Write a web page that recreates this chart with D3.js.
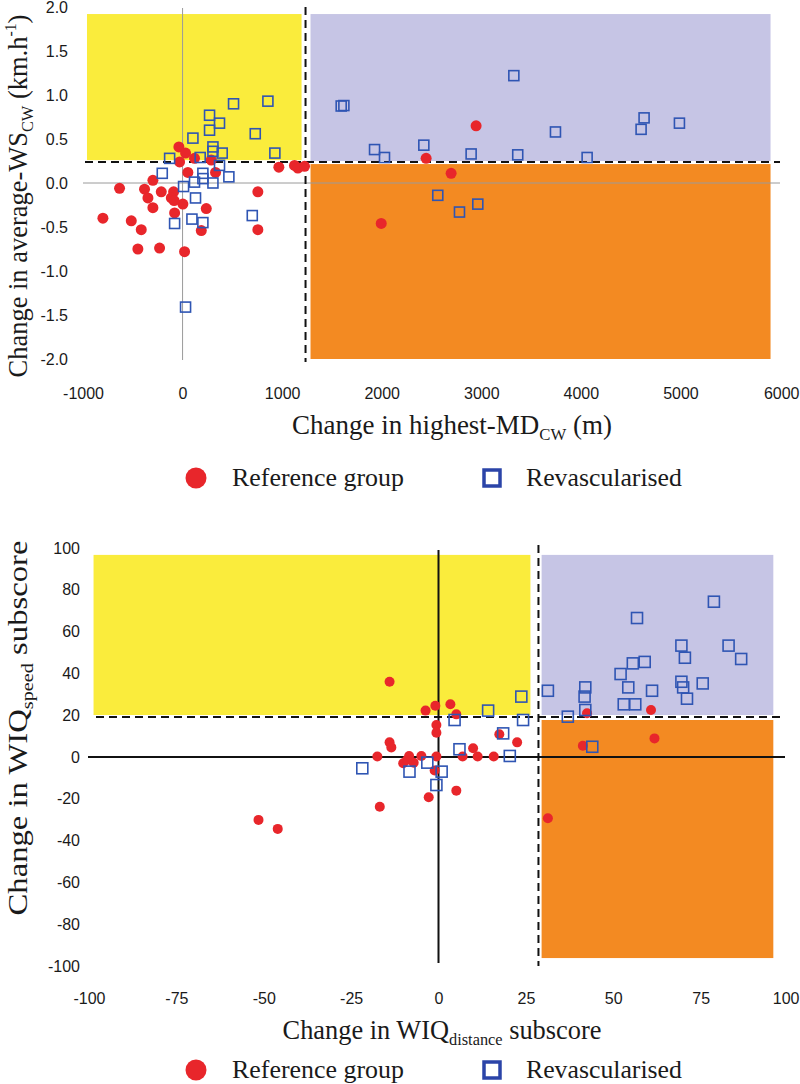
<!DOCTYPE html>
<html><head><meta charset="utf-8">
<script src="https://cdn.jsdelivr.net/npm/d3@7"></script>
<style>body{margin:0;background:#fff}svg{display:block}</style>
</head><body>
<script>
// ---------- DATA ----------
// Top chart: change in highest-MD_CW (m) vs change in average-WS_CW (km/h)
const topRefGroup = [[-37,0.41],[30,0.34],[-30,0.24],[120,0.28],[288,0.26],[53,0.12],[-298,0.03],[331,0.12],[967,0.18],[1124,0.20],[1158,0.17],[1225,0.19],[-633,-0.06],[-382,-0.07],[-214,-0.10],[-90,-0.10],[-348,-0.17],[-113,-0.17],[3,-0.24],[-298,-0.28],[756,-0.10],[238,-0.29],[-80,-0.34],[-800,-0.40],[-515,-0.43],[-415,-0.53],[188,-0.54],[756,-0.53],[-449,-0.75],[-231,-0.74],[20,-0.78],[-85,-0.20],[2948,0.65],[2446,0.28],[2697,0.11],[1995,-0.46]];
const topRevasc = [[512,0.90],[857,0.93],[271,0.77],[371,0.68],[271,0.60],[104,0.51],[730,0.56],[305,0.41],[305,0.36],[398,0.34],[177,0.29],[-130,0.28],[927,0.34],[371,0.20],[-204,0.11],[204,0.11],[204,0.05],[465,0.07],[120,0.01],[305,0.00],[10,-0.04],[130,-0.17],[700,-0.37],[-80,-0.46],[94,-0.41],[204,-0.45],[30,-1.41],[1593,0.875],[1620,0.88],[3327,1.22],[1928,0.38],[2028,0.29],[2423,0.43],[2898,0.33],[3366,0.32],[3745,0.58],[4063,0.29],[4605,0.61],[4635,0.74],[4990,0.68],[2563,-0.14],[2781,-0.33],[2965,-0.24]];
const topXTicks = [-1000,0,1000,2000,3000,4000,5000,6000];
const topYTicks = [-2,-1.5,-1,-0.5,0,0.5,1,1.5,2];
const topThreshold = {x:1235, y:0.24};
const topZones = [
  {x0:-960,x1:1195,y0:0.26,y1:1.92,fill:"#FAEC3C"},
  {x0:1285,x1:5905,y0:0.25,y1:1.92,fill:"#C6C5E5"},
  {x0:1285,x1:5905,y0:-2,y1:0.215,fill:"#F38A22"}
];
// Bottom chart: change in WIQ distance subscore vs WIQ speed subscore
const botRefGroup = [[-14.0,36.0],[-3.7,22.2],[-0.9,24.5],[3.4,25.2],[5.1,20.4],[-0.6,15.3],[-0.6,11.6],[-14.0,7.0],[-13.5,4.6],[-17.5,0.2],[-8.4,0.5],[-4.9,0.5],[-0.6,0.2],[-10.1,-3.0],[-7.1,-2.7],[-9.0,-1.4],[-1.1,-6.5],[6.9,0.2],[9.9,4.2],[11.2,0.2],[15.8,0.2],[17.4,10.9],[22.5,7.0],[5.1,-16.1],[-2.8,-19.3],[-16.8,-23.8],[31.3,-29.3],[42.5,20.9],[41.3,5.4],[60.8,22.5],[61.8,8.9],[-51.5,-30.1],[-46,-34.4]];
const botRevasc = [[78.8,74.3],[56.8,66.5],[69.5,53.3],[83.0,53.3],[70.5,47.5],[86.6,46.9],[55.6,44.8],[59.0,45.5],[52.1,39.7],[54.3,33.3],[61.1,31.7],[69.5,36.0],[70.0,33.3],[75.6,35.2],[71.1,27.9],[53.0,25.2],[56.3,25.2],[42.0,33.3],[41.8,28.9],[42.0,22.5],[31.3,31.7],[37.0,19.3],[44.0,4.9],[23.7,28.9],[24.2,17.7],[14.2,22.2],[4.6,17.7],[18.5,11.3],[6.0,3.7],[20.4,0.5],[-21.8,-5.4],[-8.3,-7.0],[-3.2,-2.7],[0.9,-7.0],[-0.6,-13.4]];
const botXTicks = [-100,-75,-50,-25,0,25,50,75,100];
const botYTicks = [-100,-80,-60,-40,-20,0,20,40,60,80,100];
const botThreshold = {x:28.6, y:19.1};
const botZones = [
  {x0:-98.7,x1:26.3,y0:20.1,y1:96.7,fill:"#FAEC3C"},
  {x0:29.5,x1:95.8,y0:20.1,y1:96.7,fill:"#C6C5E5"},
  {x0:29.5,x1:95.8,y0:-96.2,y1:17.7,fill:"#F38A22"}
];
const legendLabels = ["Reference group","Revascularised"];

// ---------- DRAW ----------
const W=800,H=1084;
const svg=d3.select("body").append("svg").attr("width",W).attr("height",H);
const RED="#E8262B", BLUE="#2F55B3";
const serif="'Liberation Serif','Times New Roman',serif";
const sans="'Liberation Sans',Arial,sans-serif";
const TS=28;

function chart(cfg){
  const g=svg.append("g");
  const x=d3.scaleLinear().domain(cfg.xd).range(cfg.xr);
  const y=d3.scaleLinear().domain(cfg.yd).range(cfg.yr);
  g.selectAll("rect.zone").data(cfg.zones).join("rect")
    .attr("x",d=>x(d.x0)).attr("width",d=>x(d.x1)-x(d.x0))
    .attr("y",d=>y(d.y1)).attr("height",d=>y(d.y0)-y(d.y1))
    .attr("fill",d=>d.fill);
  g.append("line").attr("x1",cfg.zeroH[0]).attr("x2",cfg.zeroH[1]).attr("y1",y(0)).attr("y2",y(0))
    .attr("stroke",cfg.zeroColor).attr("stroke-width",cfg.zeroW);
  g.append("line").attr("x1",x(0)).attr("x2",x(0)).attr("y1",cfg.zeroV[0]).attr("y2",cfg.zeroV[1])
    .attr("stroke",cfg.zeroColor).attr("stroke-width",cfg.zeroW);
  g.append("line").attr("x1",cfg.dashH[0]).attr("x2",cfg.dashH[1]).attr("y1",y(cfg.th.y)).attr("y2",y(cfg.th.y))
    .attr("stroke","#111").attr("stroke-width",2).attr("stroke-dasharray","8,5");
  g.append("line").attr("x1",x(cfg.th.x)).attr("x2",x(cfg.th.x)).attr("y1",cfg.dashV[0]).attr("y2",cfg.dashV[1])
    .attr("stroke","#111").attr("stroke-width",2).attr("stroke-dasharray","8,5");
  const xa=g.append("g").attr("transform",`translate(0,${cfg.xLabelY})`)
    .call(d3.axisBottom(x).tickValues(cfg.xt).tickSize(0).tickPadding(0).tickFormat(cfg.xf));
  const ya=g.append("g").attr("transform",`translate(${cfg.yLabelX},0)`)
    .call(d3.axisLeft(y).tickValues(cfg.yt).tickSize(0).tickPadding(0).tickFormat(cfg.yf));
  [xa,ya].forEach(a=>{a.select(".domain").remove();
    a.selectAll("text").attr("font-family",sans).attr("font-size",16).attr("fill","#1a1a1a");});
  xa.selectAll("text").attr("dy","0.35em").attr("y",0);
  // keep the right-most tick label inside the page
  xa.selectAll(".tick").filter((d,i,n)=>i===n.length-1).select("text")
    .attr("text-anchor","end").attr("dx", W-1-x(cfg.xd[1]));
  g.selectAll("circle.ref").data(cfg.ref).join("circle")
    .attr("cx",d=>x(d[0])).attr("cy",d=>y(d[1])).attr("r",cfg.r).attr("fill",RED);
  g.selectAll("rect.rev").data(cfg.rev).join("rect")
    .attr("x",d=>x(d[0])-cfg.s/2).attr("y",d=>y(d[1])-cfg.s/2)
    .attr("width",cfg.s).attr("height",cfg.s)
    .attr("fill","none").attr("stroke",BLUE).attr("stroke-width",1.6);
  return {x,y};
}

// condensed serif title: natural text, then horizontally scaled to a target width
function title(xc,yc,rot,len,parts,size){
  const outer=svg.append("g").attr("transform",`translate(${xc},${yc}) rotate(${rot})`);
  const inner=outer.append("g");
  const t=inner.append("text").attr("font-family",serif).attr("font-size",size).attr("fill","#1a1a1a")
    .attr("text-anchor","middle");
  parts.forEach(p=>{
    const ts=t.append("tspan").text(p.t);
    if(p.sub){ts.attr("font-size",size*0.62).attr("dy",size*0.22);}
    else if(p.sup){ts.attr("font-size",size*0.6).attr("dy",-size*0.38);}
    else if(p.back){ts.attr("dy",p.back);}
  });
  const w=t.node().getComputedTextLength();
  inner.attr("transform",`scale(${len/w},1)`);
  return t;
}

function legendText(x,y,len,str){
  const g=svg.append("g").attr("transform",`translate(${x},${y})`);
  const t=g.append("text").attr("font-family",serif).attr("font-size",26).attr("fill","#1a1a1a").text(str);
  const w=t.node().getComputedTextLength();
  t.attr("transform",`scale(${len/w},1)`);
}

function legend(y){
  svg.append("circle").attr("cx",196).attr("cy",y).attr("r",10.5).attr("fill",RED);
  svg.append("rect").attr("x",484).attr("y",y-8).attr("width",16).attr("height",16)
    .attr("fill","none").attr("stroke","#2B44A8").attr("stroke-width",3.5);
  legendText(232,y+8,172,legendLabels[0]);
  legendText(526,y+8,156,legendLabels[1]);
}

// Top chart
chart({xd:[-1000,6000],xr:[83,780],yd:[-2,2],yr:[359,7],zones:topZones,
  zeroH:[83,780],zeroV:[8,360],zeroColor:"#9a9a9a",zeroW:1,
  dashH:[85,780],dashV:[7,362],th:topThreshold,
  xLabelY:393,yLabelX:68,xt:topXTicks,yt:topYTicks,
  xf:d=>String(d),yf:d=>d.toFixed(1),
  ref:topRefGroup,rev:topRevasc,r:5.5,s:10});
title(452,434,0,320,[{t:"Change in highest-MD"},{t:"CW",sub:true},{t:" (m)",back:-TS*0.22}],TS);
title(27,196,-90,363,[{t:"Change in average-WS"},{t:"CW",sub:true},{t:" (km.h",back:-TS*0.22},{t:"-1",sup:true},{t:")",back:TS*0.38}],TS);
legend(478);

// Bottom chart
chart({xd:[-100,100],xr:[89,788],yd:[-100,100],yr:[966,548],zones:botZones,
  zeroH:[88,785],zeroV:[550,963],zeroColor:"#111",zeroW:2,
  dashH:[96,785],dashV:[545,966],th:botThreshold,
  xLabelY:998,yLabelX:80,xt:botXTicks,yt:botYTicks,
  xf:d=>String(d),yf:d=>String(d),
  ref:botRefGroup,rev:botRevasc,r:5,s:11});
title(442,1039,0,319,[{t:"Change in WIQ"},{t:"distance",sub:true},{t:" subscore",back:-TS*0.22}],TS);
title(27,728,-90,375,[{t:"Change in WIQ"},{t:"speed",sub:true},{t:" subscore",back:-TS*0.22}],TS);
legend(1070);
</script>
</body></html>
